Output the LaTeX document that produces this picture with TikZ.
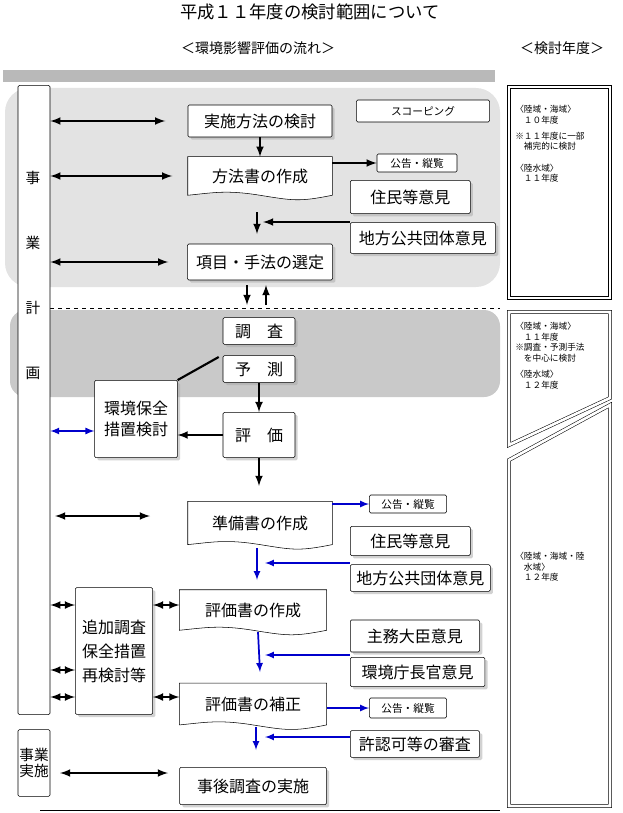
\documentclass[tikz,border=0pt]{standalone}
\usepackage{fontspec}
\setmainfont{Noto Sans CJK JP}
\usetikzlibrary{shadows,backgrounds,patterns}
\begin{document}
\begin{tikzpicture}[x=0.75pt,y=-0.75pt,
  box/.style = {draw, fill=white, rounded corners=1pt, inner sep=0pt, font=\fontsize{12}{14}\selectfont},
  sbox/.style = {box, drop shadow={shadow xshift=2pt, shadow yshift=-2pt, fill=gray!70}},
  doc/.style = {inner sep=0pt, font=\fontsize{12}{14}\selectfont},
  small/.style = {box, font=\fontsize{8}{9}\selectfont},
  note/.style = {align=left, font=\fontsize{6.5}{8}\selectfont, anchor=north west, inner sep=0pt},
  bk/.style = {<->, >=latex, line width=1.6pt},
  ar/.style = {->, >=latex, line width=1.6pt},
  bl/.style = {->, >=latex, line width=1.3pt, blue!80!black},
  blb/.style = {<->, >=latex, line width=1.3pt, blue!80!black}]
\useasboundingbox (0,0) rectangle (622,813);

\node (title) at (310,12) {\fontsize{13}{15}\selectfont 平成１１年度の検討範囲について};
\node (flow) at (258,48) {\fontsize{10.5}{12}\selectfont ＜環境影響評価の流れ＞};
\node (year) at (562,48) {\fontsize{10.5}{12}\selectfont ＜検討年度＞};

% shaded regions
\begin{pgfonlayer}{background}
\fill[gray!55] (3,70) rectangle (495,82);
\fill[gray!22, rounded corners=18pt] (5,88) rectangle (500,287);
\fill[gray!42] (10,310) [rounded corners=12pt] rectangle (500,397);
\draw[dashed] (50,308) -- (500,308);
\draw (40,810) -- (500,810);
\end{pgfonlayer}

% left column
\node[box, minimum width=24pt, minimum height=472pt] (plan) at (34,400) {};
\foreach \c/\y in {事/178, 業/243, 計/308, 画/373} {\node[font=\fontsize{11}{12}\selectfont] at (33,\y) {\c};}
\node[box, minimum width=24pt, minimum height=50pt, align=center, font=\fontsize{11}{12}\selectfont] (exec) at (34,763) {事業\\実施};

% upper flow
\node[sbox, minimum width=108pt, minimum height=24pt] (jisshi) at (260,121) {実施方法の検討};
\node[box, minimum width=100pt, minimum height=16.5pt, font=\fontsize{8}{9}\selectfont] (scope) at (423,111) {スコーピング};
\node[doc, minimum width=108pt, minimum height=28.5pt] (hoho) at (260,176) {方法書の作成};
\node[small, minimum width=60pt, minimum height=13.5pt] (koku1) at (417,163) {公告・縦覧};
\node[sbox, minimum width=90pt, minimum height=25pt, anchor=west] (jumin1) at (350,197) {住民等意見};
\node[sbox, minimum width=109pt, minimum height=23pt, anchor=west] (chiho1) at (350,238) {地方公共団体意見};
\node[sbox, minimum width=109pt, minimum height=27pt] (koumoku) at (260,262) {項目・手法の選定};

% lower flow
\node[sbox, minimum width=54pt, minimum height=20pt] (chosa) at (259,331) {調\quad 査};
\node[sbox, minimum width=54pt, minimum height=20pt] (yosoku) at (259,369) {予\quad 測};
\node[sbox, minimum width=62pt, minimum height=58pt, align=center] (hozen) at (136,419) {環境保全\\[2pt]措置検討};
\node[sbox, minimum width=54pt, minimum height=34pt] (hyoka) at (259,435) {評\quad 価};
\node[doc, minimum width=108pt, minimum height=32pt] (junbi) at (260,523) {準備書の作成};
\node[small, minimum width=58pt, minimum height=13.5pt] (koku2) at (408,504) {公告・縦覧};
\node[sbox, minimum width=90pt, minimum height=22pt, anchor=west] (jumin2) at (350,541) {住民等意見};
\node[sbox, minimum width=105pt, minimum height=20pt, anchor=west] (chiho2) at (350,578) {地方公共団体意見};
\node[doc, minimum width=110pt, minimum height=30pt] (hyokasho) at (253,610) {評価書の作成};
\node[sbox, minimum width=58pt, minimum height=95pt, align=center] (tsuika) at (114,651) {追加調査\\[4pt]保全措置\\[4pt]再検討等};
\node[sbox, minimum width=97pt, minimum height=24pt, anchor=west] (shumu) at (350,636) {主務大臣意見};
\node[sbox, minimum width=101pt, minimum height=22pt, anchor=west] (chokan) at (350,672) {環境庁長官意見};
\node[doc, minimum width=110pt, minimum height=31pt] (hosei) at (253,704) {評価書の補正};
\node[small, minimum width=58pt, minimum height=15pt] (koku3) at (408,708) {公告・縦覧};
\node[sbox, minimum width=97pt, minimum height=20pt, anchor=west] (kyoninka) at (350,744) {許認可等の審査};
\node[sbox, minimum width=110pt, minimum height=28pt] (jigo) at (253,786) {事後調査の実施};

% document shapes
\begin{pgfonlayer}{background}
\foreach \n in {hoho,junbi,hyokasho,hosei} {
  \draw[fill=white] (\n.north west) -- (\n.north east) -- (\n.south east)
    .. controls +(-25pt,-5pt) and +(25pt,-4pt) .. (\n.south)
    .. controls +(-25pt,4pt) and +(20pt,2pt) .. (\n.south west) -- cycle;}
\end{pgfonlayer}

% right column
\draw[double, double distance=2pt] (509,87) rectangle (610,298);
\draw[double, double distance=2pt] (509,312) -- (610,312) -- (610,398) -- (509,445) -- cycle;
\draw[double, double distance=2pt] (509,460) -- (610,405) -- (610,806) -- (509,806) -- cycle;
\node[note] (y1) at (515,105) {〈陸域・海域〉\\　１０年度\\[4pt]※１１年度に一部\\　補完的に検討\\[8pt]〈陸水域〉\\　１１年度};
\node[note] (y2) at (515,322) {〈陸域・海域〉\\　１１年度\\※調査・予測手法\\　を中心に検討\\[4pt]〈陸水域〉\\　１２年度};
\node[note] (y3) at (515,552) {〈陸域・海域・陸\\　水域〉\\　１２年度};

% connectors
\draw[bk] (plan.east |- jisshi) -- +(115,0);
\draw[bk] (plan.east |- hoho) -- +(122,0);
\draw[bk] (plan.east |- koumoku) -- +(118,0);
\draw[ar] (jisshi) -- (hoho);
\draw[ar] (hoho.east |- koku1) -- (koku1);
\draw[ar] (257,212) -- (257,234);
\draw[ar] (chiho1.west |- 0,222) -- (263,222);
\draw[ar] (247,285) -- (247,305);
\draw[ar] (266,305) -- (266,285);
\draw[line width=1.6pt] (yosoku.west) ++(-4,-12) -- (hozen.north east);
\draw[ar] (yosoku.south) -- (hyoka.north);
\draw[ar] (hyoka.west) -- (hozen.east |- hyoka.west);
\draw[blb] (plan.east |- 0,431) -- (hozen.west |- 0,431);
\draw[ar] (hyoka.south) -- +(0,28);
\draw[bk] (55,516) -- (150,516);
\draw[bl] (junbi.east |- koku2) -- (koku2);
\draw[bl] (257,548) -- (257,580);
\draw[bl] (chiho2.west |- 0,563) -- (265,563);
\draw[bk] (plan.east |- 0,605) -- (tsuika.west |- 0,605);
\draw[bk] (tsuika.east |- 0,605) -- (hyokasho.west |- 0,605);
\draw[bl] (258,632) -- (260,672);
\draw[bl] (shumu.west |- 0,655) -- (265,655);
\draw[bk] (plan.east |- 0,670) -- (tsuika.west |- 0,670);
\draw[bk] (plan.east |- 0,697) -- (tsuika.west |- 0,697);
\draw[bk] (tsuika.east |- 0,697) -- (hosei.west |- 0,697);
\draw[bl] (hosei.east |- koku3) -- (koku3);
\draw[bl] (256,727) -- (256,750);
\draw[bl] (kyoninka.west |- 0,737) -- (265,737);
\draw[bk] (60,773) -- (168,773);
\end{tikzpicture}
\end{document}
